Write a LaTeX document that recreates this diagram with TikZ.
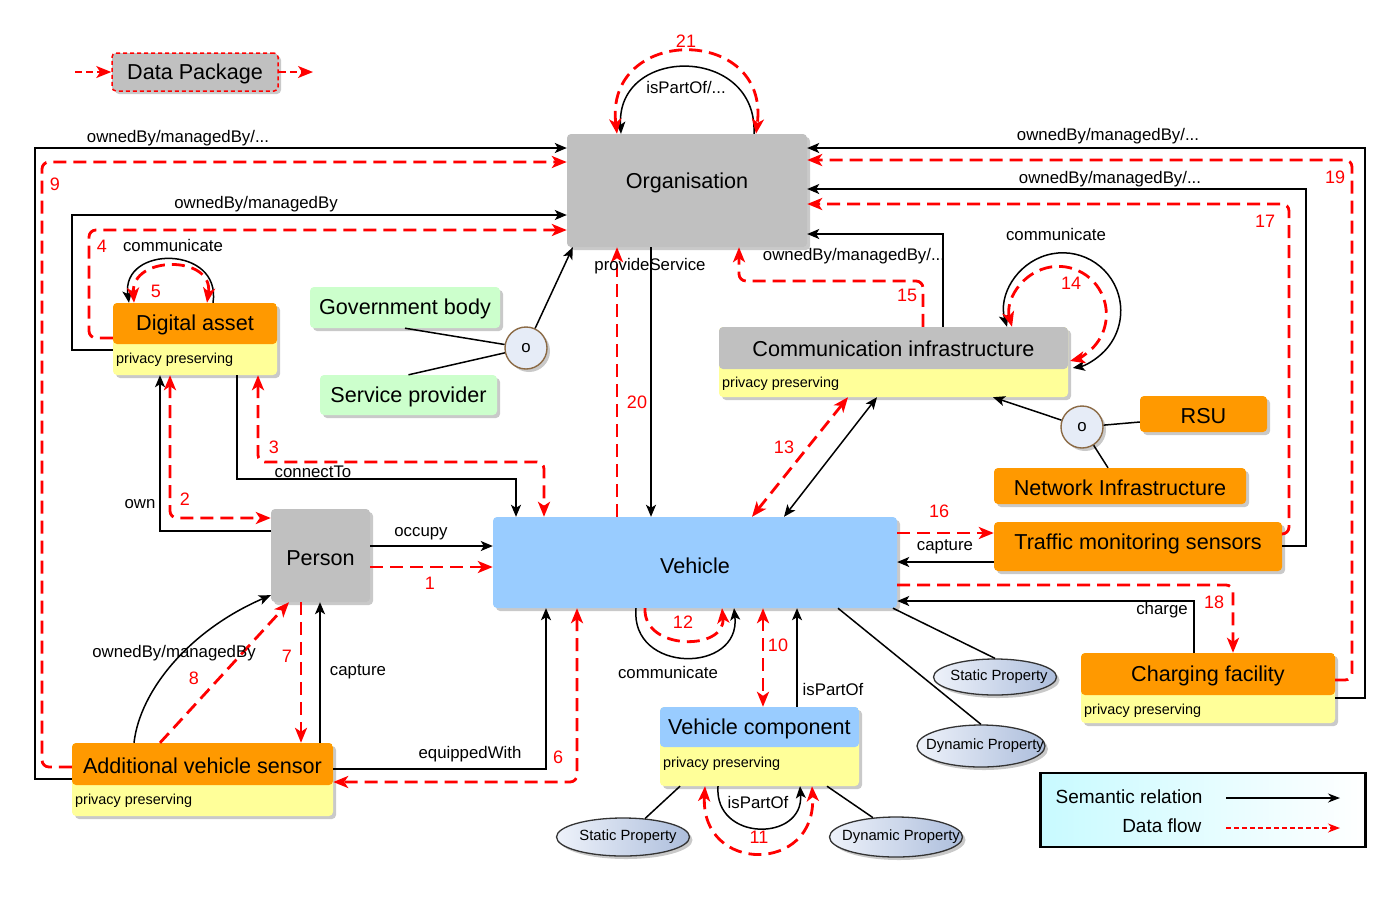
\documentclass[tikz,border=0pt]{standalone}
\usepackage{fontspec}
\setmainfont{Liberation Sans}
\usetikzlibrary{arrows.meta,shadows,shapes.geometric}
\definecolor{orng}{HTML}{FF9900}
\definecolor{yel}{HTML}{FFFF99}
\definecolor{grn}{HTML}{CCFFCC}
\definecolor{blu}{HTML}{99CCFF}
\definecolor{gry}{HTML}{C0C0C0}
\definecolor{circfill}{HTML}{E6ECF7}
\definecolor{circdraw}{HTML}{8B6A45}
\definecolor{ellL}{HTML}{EEF2FA}
\definecolor{ellR}{HTML}{ADBEDC}
\definecolor{legL}{HTML}{C8FAFF}
\newcommand\ttlfont{\fontsize{21.6}{25}\selectfont}
\newcommand\lblfont{\fontsize{16.8}{19}\selectfont}
\newcommand\ppfont{\fontsize{14.4}{17}\selectfont}
\newcommand\numfont{\fontsize{18}{20}\selectfont}
\newcommand\elfont{\fontsize{14.8}{17}\selectfont}
\newcommand\legfont{\fontsize{19}{22}\selectfont}
\tikzset{
  shadowed/.style={drop shadow={shadow xshift=3pt,shadow yshift=-3pt,opacity=0.3,fill=black!70}},
  nbox/.style={rectangle, rounded corners=4pt, shadowed, inner sep=0pt, font=\ttlfont},
  twopart/.style n args={4}{nbox, fill=yel, minimum width=#1, minimum height=#2,
    path picture={\fill[#4] (path picture bounding box.north west) rectangle ([yshift=-#3]path picture bounding box.north east);}},
  pp/.style={font=\ppfont, inner sep=1pt, anchor=west},
  lbl/.style={font=\lblfont, inner sep=1pt},
  num/.style={font=\numfont, text=red, inner sep=1pt},
  ell/.style={ellipse, draw=black!80, line width=1.3pt, left color=ellL, right color=ellR, inner sep=0pt, shadowed},
  orcirc/.style={circle, draw=circdraw, line width=1.4pt, fill=circfill, minimum size=42pt, inner sep=0pt, font=\lblfont, shadowed},
  sem/.style={black, line width=1.5pt, >={Stealth[length=12pt,width=10pt,inset=3pt]}, ->},
  flow/.style={red, line width=2.8pt, dash pattern=on 13pt off 7pt, >={Stealth[length=15pt,width=12pt,inset=4pt]}, ->, rounded corners=7pt},
  pline/.style={black, line width=1.5pt},
}
\begin{document}
\begin{tikzpicture}[x=1pt,y=-1pt]
\useasboundingbox (0,0) rectangle (1400,898);

% ---------- nodes ----------
\node[nbox, fill=gry, draw=red, line width=1.5pt, dash pattern=on 4pt off 3pt, minimum width=166pt, minimum height=38pt] (dp) at (195,72) {};
\node[font=\ttlfont] (dpt) at (195,73.5) {Data Package};
\coordinate (dpin) at (75,72);
\coordinate (dpout) at (313,72);

\node[nbox, fill=gry, minimum width=240pt, minimum height=113pt] (org) at (687,190.5) {};
\node[font=\ttlfont] (orgt) at (687,183) {Organisation};

\node[twopart={164pt}{72pt}{41pt}{orng}] (da) at (195,339) {};
\node[font=\ttlfont] (dat) at (195,324.5) {Digital asset};
\node[pp] (dap) at (115,360) {privacy preserving};

\node[nbox, fill=grn, minimum width=190pt, minimum height=41pt] (gov) at (405,307.5) {};
\node[font=\ttlfont] (govt) at (405,309) {Government body};
\node[nbox, fill=grn, minimum width=177pt, minimum height=40pt] (sp) at (408.5,395) {};
\node[font=\ttlfont] (spt) at (408.5,396.5) {Service provider};
\node[orcirc] (c1) at (526,348) {o};

\node[twopart={349pt}{70pt}{42pt}{gry}] (ci) at (893.5,362) {};
\node[font=\ttlfont] (cit) at (893.5,349) {Communication infrastructure};
\node[pp] (cip) at (721,384) {privacy preserving};

\node[nbox, fill=orng, minimum width=127pt, minimum height=36pt] (rsu) at (1203.5,414) {};
\node[font=\ttlfont] (rsut) at (1203.5,416) {RSU};
\node[orcirc] (c2) at (1082,427) {o};
\node[nbox, fill=orng, minimum width=252pt, minimum height=36pt] (ni) at (1120,486) {};
\node[font=\ttlfont] (nit) at (1120,488) {Network Infrastructure};
\node[nbox, fill=orng, minimum width=288pt, minimum height=49pt] (tms) at (1138,546.5) {};
\node[font=\ttlfont] (tmst) at (1138,544) {Traffic monitoring sensors};

\node[twopart={254pt}{70pt}{42pt}{orng}] (cf) at (1208,688) {};
\node[font=\ttlfont] (cft) at (1208,675.5) {Charging facility};
\node[pp] (cfp) at (1083,711) {privacy preserving};

\node[nbox, fill=blu, minimum width=404pt, minimum height=91pt] (veh) at (695,562.5) {};
\node[font=\ttlfont] (veht) at (695,566) {Vehicle};
\node[nbox, fill=gry, minimum width=99pt, minimum height=93pt] (per) at (320.5,555.5) {};
\node[font=\ttlfont] (pert) at (320.5,558) {Person};

\node[twopart={261pt}{73pt}{42pt}{orng}] (avs) at (202.5,779.5) {};
\node[font=\ttlfont] (avst) at (202.5,765.5) {Additional vehicle sensor};
\node[pp] (avsp) at (74,801) {privacy preserving};

\node[twopart={199pt}{79pt}{40pt}{blu}] (vc) at (759.5,746.5) {};
\node[font=\ttlfont] (vct) at (759.5,728.5) {Vehicle component};
\node[pp] (vcp) at (662,764) {privacy preserving};

\node[ell, minimum width=123pt, minimum height=36pt, label={[font=\elfont, xshift=4pt]center:Static Property}] (sp1) at (995,677) {};
\node[ell, minimum width=128pt, minimum height=42pt, label={[font=\elfont, xshift=4pt]center:Dynamic Property}] (dp1) at (981,746) {};
\node[ell, minimum width=133pt, minimum height=38pt, label={[font=\elfont, xshift=5pt]center:Static Property}] (sp2) at (623,837) {};
\node[ell, minimum width=133pt, minimum height=40pt, label={[font=\elfont, xshift=5pt]center:Dynamic Property}] (dp2) at (896,837) {};

% legend
\node[draw=black, line width=2.2pt, left color=legL, right color=white, minimum width=325pt, minimum height=74pt, inner sep=0pt] (leg) at (1203,810) {};
\node[font=\legfont, anchor=east] (legs) at (1206,797) {Semantic relation};
\node[font=\legfont, anchor=east] (legd) at (1205,826) {Data flow};
\coordinate (la1) at (1226,798);
\coordinate (la2) at (1340,798);
\coordinate (lb1) at (1226,828);
\coordinate (lb2) at (1340,828);
\draw[line width=1.3pt, -{Stealth[length=12pt,width=9pt]}] (la1) -- (la2);
\draw[red, line width=1.3pt, dash pattern=on 5pt off 3pt, -{Stealth[length=12pt,width=9pt]}] (lb1) -- (lb2);

% data package arrows
\draw[flow, line width=1.8pt, dash pattern=on 7pt off 4pt] (dpin) -- (dp.west);
\draw[flow, line width=1.8pt, dash pattern=on 7pt off 4pt] (dp.east) -- (dpout);

% ---------- connectors ----------
% left outer loops
\draw[sem] (avs.west |- 0,779) -- (35,779) -- (35,148) -- (org.west |- 0,148);
\draw[flow] (avs.west |- 0,767) -- (42,767) -- (42,162) -- (org.west |- 0,162);
\draw[sem] (da.west |- 0,350) -- (72,350) -- (72,215) -- (org.west |- 0,215);
\draw[flow] (da.west |- 0,338) -- (89,338) -- (89,230) -- (org.west |- 0,230);

% right outer loops
\draw[sem] (cf.east |- 0,698) -- (1365,698) -- (1365,148) -- (org.east |- 0,148);
\draw[flow] (cf.east |- 0,680) -- (1352,680) -- (1352,160) -- (org.east |- 0,160);
\draw[sem] (tms.east |- 0,546) -- (1306,546) -- (1306,189) -- (org.east |- 0,189);
\draw[flow] (tms.east |- 0,534) -- (1289,534) -- (1289,204) -- (org.east |- 0,204);
\draw[sem] (ci.north -| 943,0) -- (943,234) -- (org.east |- 0,234);
\draw[flow] (ci.north -| 923,0) -- (923,281) -- (739,281) -- (org.south -| 739,0);

% organisation self loops
\draw[sem] (org.north -| 754,0) .. controls (758,45) and (616,45) .. (org.north -| 621,0);
\draw[flow,<->] (org.north -| 617,0) .. controls (604,25) and (770,25) .. (org.north -| 756,0);

% provideService / 20
\draw[sem] (org.south -| 651,0) -- (veh.north -| 651,0);
\draw[flow] (veh.north -| 617,0) -- (org.south -| 617,0);

% government / service provider
\draw[pline] (gov.south) -- (c1);
\draw[pline] (sp.north) -- (c1);
\draw[sem] (c1) -- ([xshift=6pt]org.south west);

% digital asset self loop
\draw[sem] (da.north -| 213,0) .. controls (222,245) and (121,245) .. (da.north -| 129,0);
\draw[flow,<->] (da.north -| 207,0) .. controls (214,255) and (131,255) .. (da.north -| 134,0);

% person / digital asset / vehicle
\draw[sem] (per.east |- 0,546) -- (veh.west |- 0,546);
\draw[flow] (per.east |- 0,567) -- (veh.west |- 0,567);
\draw[sem] (per.west |- 0,531) -- (160,531) -- (da.south -| 160,0);
\draw[flow,<->] (da.south -| 170,0) -- (170,518) -- (per.west |- 0,518);
\draw[sem] (da.south -| 237,0) -- (237,479) -- (516,479) -- (veh.north -| 516,0);
\draw[flow,<->] (da.south -| 258,0) -- (258,462) -- (544,462) -- (veh.north -| 544,0);

% person / additional vehicle sensor
\draw[sem] (avs.north -| 134,0) .. controls (140,690) and (190,630) .. ([yshift=7pt]per.south west);
\draw[flow] (avs.north -| 160,0) -- (per.south -| 289,0);
\draw[flow] (per.south -| 301,0) -- (avs.north -| 301,0);
\draw[sem] (avs.north -| 320,0) -- (per.south -| 320,0);

% equippedWith / 6
\draw[sem] (avs.east |- 0,769) -- (546,769) -- (veh.south -| 546,0);
\draw[flow,<->] (veh.south -| 577,0) -- (577,782) -- (avs.east |- 0,782);

% vehicle self loop
\draw[sem] (veh.south -| 636,0) .. controls (630,674) and (741,674) .. (veh.south -| 734,0);
\draw[flow] (veh.south -| 645,0) .. controls (643,651) and (726,651) .. (veh.south -| 722,0);

% vehicle / vehicle component
\draw[flow,<->] (veh.south -| 763,0) -- (vc.north -| 763,0);
\draw[sem] (vc.north -| 797,0) -- (veh.south -| 797,0);
\draw[sem] (vc.south -| 718,0) .. controls (714,842) and (804,842) .. (vc.south -| 800,0);
\draw[flow,<->] (vc.south -| 705,0) .. controls (700,874) and (817,874) .. (vc.south -| 812,0);

% properties
\draw[pline] (vc.south -| 680,0) -- (sp2.40);
\draw[pline] (vc.south -| 827,0) -- (dp2.140);
\draw[pline] (veh.south -| 893,0) -- (sp1.north);
\draw[pline] (veh.south -| 838,0) -- (dp1.north);

% communication infrastructure
\draw[flow,<->] (veh.north -| 752,0) -- (ci.south -| 848,0);
\draw[sem,<->] (veh.north -| 784,0) -- (ci.south -| 877,0);
\draw[sem,<->] (ci.north -| 1007,0) arc[start angle=164, end angle=440, radius=58];
\draw[flow,<->] (ci.north -| 1012,0) arc[start angle=165, end angle=436, radius=48];
\draw[sem] (c2) -- (ci.south -| 993,0);
\draw[pline] (c2) -- (rsu.west |- 0,422);
\draw[pline] (c2) -- (ni.north -| 1108,0);

% traffic monitoring sensors / charging
\draw[sem] (tms.west |- 0,562) -- (veh.east |- 0,562);
\draw[flow] (veh.east |- 0,533) -- (tms.west |- 0,533);
\draw[sem] (cf.north -| 1194,0) -- (1194,601) -- (veh.east |- 0,601);
\draw[flow] (veh.east |- 0,585) -- (1233,585) -- (cf.north -| 1233,0);

% ---------- labels ----------
\node[lbl] (l1) at (178,138) {ownedBy/managedBy/...};
\node[num] (n9) at (55,184) {9};
\node[lbl] (l2) at (256,204) {ownedBy/managedBy};
\node[num] (n4) at (102,246) {4};
\node[lbl] (l3) at (173,245) {communicate};
\node[num] (n5) at (156,291) {5};
\node[num] (n21) at (686,41) {21};
\node[lbl] (l4) at (686,87) {isPartOf/...};
\node[lbl] (l5) at (650,266) {provideService};
\node[num] (n20) at (637,402) {20};
\node[lbl] (l6) at (854,256) {ownedBy/managedBy/...};
\node[num] (n15) at (907,295) {15};
\node[lbl] (l7) at (1108,136) {ownedBy/managedBy/...};
\node[lbl] (l8) at (1110,179) {ownedBy/managedBy/...};
\node[num] (n19) at (1335,177) {19};
\node[num] (n17) at (1265,221) {17};
\node[lbl] (l9) at (1056,234) {communicate};
\node[num] (n14) at (1071,283) {14};
\node[num] (n3) at (274,447) {3};
\node[lbl] (l10) at (313,472) {connectTo};
\node[num] (n2) at (185,499) {2};
\node[lbl] (l11) at (140,504) {own};
\node[lbl] (l12) at (421,534) {occupy};
\node[num] (n1) at (430,583) {1};
\node[num] (n13) at (784,447) {13};
\node[num] (n16) at (939,511) {16};
\node[lbl] (l13) at (945,547) {capture};
\node[lbl] (l14) at (1162,610) {charge};
\node[num] (n18) at (1214,602) {18};
\node[lbl] (l15) at (174,653) {ownedBy/managedBy};
\node[num] (n8) at (194,678) {8};
\node[num] (n7) at (287,656) {7};
\node[lbl] (l16) at (358,672) {capture};
\node[lbl] (l17) at (470,754) {equippedWith};
\node[num] (n6) at (558,757) {6};
\node[num] (n12) at (683,622) {12};
\node[lbl] (l18) at (668,672) {communicate};
\node[num] (n10) at (778,645) {10};
\node[lbl] (l19) at (833,689) {isPartOf};
\node[lbl] (l20) at (758,802) {isPartOf};
\node[num] (n11) at (759,837) {11};
\end{tikzpicture}
\end{document}
